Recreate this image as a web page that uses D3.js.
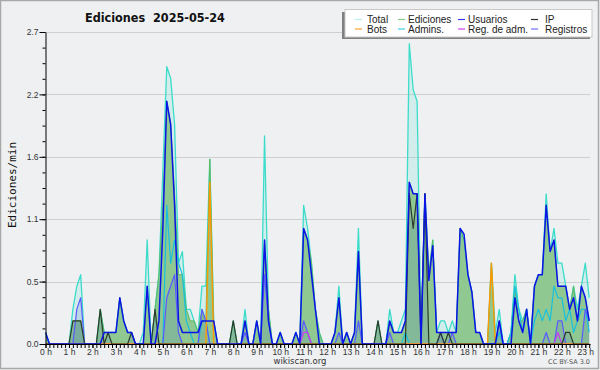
<!DOCTYPE html>
<html>
<head>
<meta charset="utf-8">
<script src="https://cdn.jsdelivr.net/npm/d3@7"></script>
<style>
  body { margin: 0; background: #fff; }
  svg { display: block; font-family: "DejaVu Sans", sans-serif; }
</style>
</head>
<body>
<svg width="600" height="370"></svg>
<script>
// one sample every 10 minutes, 0:00 .. 23:10 (edits per minute)
const minutes = d3.range(0, 1400, 10);
const yTickValues = [0, 0.54, 1.08, 1.62, 2.16, 2.7];
const legendRows = [["Total", "Ediciones", "Usuarios", "IP"], ["Bots", "Admins.", "Reg. de adm.", "Registros"]];

//              :00  :10  :20  :30  :40  :50
const total = [0.1, 0, 0, 0, 0, 0,            // 0h
    0, 0.3, 0.5, 0.6, 0, 0,                   // 1h
    0, 0, 0.3, 0.1, 0.1, 0.1,                 // 2h
    0.1, 0.4, 0.2, 0.1, 0.1, 0,               // 3h
    0, 0.1, 0.9, 0, 0.3, 0.6,                 // 4h
    1.5, 2.4, 2.3, 1.9, 0.7, 0.8,             // 5h
    0.3, 0.3, 0.2, 0.1, 0.5, 0.5,             // 6h
    1.6, 0.2, 0, 0, 0, 0,                     // 7h
    0.2, 0, 0, 0.3, 0, 0,                     // 8h
    0.2, 0, 1.8, 0.3, 0, 0,                   // 9h
    0.1, 0, 0, 0, 0.1, 0,                     // 10h
    1.2, 1.0, 0.7, 0.3, 0.1, 0,               // 11h
    0, 0, 0.1, 0.5, 0, 0.1,                   // 12h
    0, 0.1, 1.0, 0, 0, 0,                     // 13h
    0, 0.2, 0, 0, 0.3, 0.1,                   // 14h
    0.1, 0.2, 0.3, 2.6, 2.2, 2.1,             // 15h
    0.1, 1.3, 0.6, 0.9, 0.1, 0.2,             // 16h
    0.2, 0.1, 0.2, 0.1, 1.0, 0.9,             // 17h
    0.6, 0.45, 0.1, 0.1, 0, 0,                // 18h
    0.7, 0.1, 0.3, 0, 0, 0.1,                 // 19h
    0.6, 0.3, 0.2, 0.3, 0, 0.5,               // 20h
    0.6, 0.6, 1.3, 0.8, 1.0, 0.7,             // 21h
    0.7, 0.5, 0.3, 0.5, 0.3, 0.5,             // 22h
    0.7, 0.4];                                // 23h

const ediciones = [0.1, 0, 0, 0, 0, 0,
    0, 0.2, 0.2, 0.2, 0, 0,
    0, 0, 0.3, 0.1, 0.1, 0.1,
    0.1, 0.4, 0.2, 0.1, 0.1, 0,
    0, 0, 0.5, 0, 0.3, 0.6,
    1.2, 2.1, 1.9, 1.3, 0.6, 0.6,
    0.3, 0.2, 0.2, 0.1, 0.3, 0.2,
    1.6, 0.2, 0, 0, 0, 0,
    0.2, 0, 0, 0.2, 0, 0,
    0.2, 0, 0.9, 0.3, 0, 0,
    0.1, 0, 0, 0, 0.1, 0,
    1.0, 0.9, 0.7, 0.3, 0.1, 0,
    0, 0, 0.1, 0.4, 0, 0.1,
    0, 0.1, 0.8, 0, 0, 0,
    0, 0.2, 0, 0, 0.2, 0.1,
    0.1, 0.1, 0.2, 1.4, 1.3, 1.3,
    0.1, 1.3, 0.6, 0.9, 0.1, 0.1,
    0.1, 0.1, 0.1, 0.1, 1.0, 0.9,
    0.6, 0.45, 0.1, 0.1, 0, 0,
    0.7, 0, 0.2, 0, 0, 0.1,
    0.5, 0.2, 0.2, 0.3, 0, 0.5,
    0.6, 0.6, 1.2, 0.8, 0.9, 0.5,
    0.5, 0.5, 0.3, 0.5, 0.2, 0.5,
    0.4, 0.2];

const usuarios = [0.1, 0, 0, 0, 0, 0,
    0, 0, 0, 0, 0, 0,
    0, 0, 0, 0.1, 0.1, 0.1,
    0.1, 0.4, 0.2, 0.1, 0.1, 0,
    0, 0, 0.5, 0, 0, 0.2,
    1.0, 2.1, 1.9, 1.2, 0.2, 0.1,
    0.1, 0.1, 0.1, 0.1, 0.2, 0.2,
    0.2, 0.2, 0, 0, 0, 0,
    0, 0, 0, 0.2, 0, 0,
    0.2, 0, 0.9, 0.2, 0, 0,
    0.1, 0, 0, 0, 0.1, 0,
    1.0, 0.9, 0.6, 0.3, 0, 0,
    0, 0, 0.1, 0.4, 0, 0.1,
    0, 0.1, 0.8, 0, 0, 0,
    0, 0, 0, 0, 0.2, 0.1,
    0.1, 0.1, 0.2, 1.4, 1.3, 1.3,
    0, 1.3, 0.55, 0.85, 0.1, 0.1,
    0.1, 0.1, 0.1, 0.1, 1.0, 0.95,
    0.6, 0.45, 0.1, 0.1, 0, 0,
    0, 0, 0.2, 0, 0, 0,
    0.4, 0.2, 0.1, 0.3, 0, 0.5,
    0.6, 0.6, 1.2, 0.8, 0.9, 0.5,
    0.5, 0.5, 0.3, 0.4, 0.2, 0.5,
    0.4, 0.2];

const ip = [0, 0, 0, 0, 0, 0,
    0, 0.2, 0.2, 0.2, 0, 0,
    0, 0, 0.3, 0, 0.1, 0,
    0, 0, 0, 0, 0.1, 0,
    0, 0, 0, 0, 0.3, 0,
    0, 0, 0, 0, 0, 0,
    0, 0, 0, 0, 0, 0,
    0, 0, 0, 0, 0, 0,
    0.2, 0, 0, 0, 0, 0,
    0, 0, 0, 0, 0, 0,
    0, 0, 0, 0, 0, 0,
    0, 0, 0, 0, 0, 0,
    0, 0, 0, 0, 0, 0,
    0, 0, 0, 0, 0, 0,
    0, 0.2, 0, 0, 0, 0,
    0, 0, 0, 1.3, 1.0, 1.3,
    0, 1.3, 0, 0, 0, 0.1,
    0, 0.1, 0, 0, 0, 0,
    0, 0, 0, 0, 0, 0,
    0, 0, 0, 0, 0, 0,
    0, 0, 0, 0, 0, 0,
    0, 0, 0, 0, 0, 0,
    0, 0.1, 0.1, 0, 0, 0,
    0, 0];

const bots = [0, 0, 0, 0, 0, 0,
    0, 0, 0, 0, 0, 0,
    0, 0, 0, 0, 0, 0,
    0, 0, 0, 0, 0, 0,
    0, 0, 0, 0, 0, 0,
    0, 0, 0, 0, 0, 0,
    0, 0, 0, 0, 0, 0,
    1.4, 0, 0, 0, 0, 0,
    0, 0, 0, 0, 0, 0,
    0, 0, 0, 0, 0, 0,
    0, 0, 0, 0, 0, 0,
    0, 0, 0, 0, 0, 0,
    0, 0, 0, 0, 0, 0,
    0, 0, 0, 0, 0, 0,
    0, 0, 0, 0, 0, 0,
    0, 0, 0, 0, 0, 0,
    0, 0, 0, 0, 0, 0,
    0, 0, 0, 0, 0, 0,
    0, 0, 0, 0, 0, 0,
    0.7, 0, 0, 0, 0, 0,
    0, 0, 0, 0, 0, 0,
    0, 0, 0, 0, 0, 0,
    0, 0, 0, 0, 0, 0,
    0, 0];

const admins = [0.1, 0, 0, 0, 0, 0,
    0, 0, 0, 0, 0, 0,
    0, 0, 0, 0, 0, 0,
    0, 0, 0, 0, 0, 0,
    0, 0, 0, 0, 0, 0,
    0, 1.2, 0.7, 0.9, 0.7, 0.6,
    0.2, 0.1, 0, 0, 0.2, 0.2,
    0, 0, 0, 0, 0, 0,
    0, 0, 0, 0, 0, 0,
    0, 0, 0, 0, 0, 0,
    0, 0, 0, 0, 0, 0,
    0, 0, 0, 0, 0, 0,
    0, 0, 0, 0, 0, 0,
    0, 0, 0, 0, 0, 0,
    0, 0, 0, 0, 0, 0,
    0, 0, 0.1, 0, 0, 0,
    0, 0, 0, 0, 0, 0,
    0, 0, 0, 0, 0, 0,
    0, 0, 0, 0, 0, 0,
    0, 0, 0.1, 0, 0, 0.1,
    0.5, 0.3, 0.1, 0.3, 0, 0.2,
    0.3, 0.2, 0.3, 0.2, 0.5, 0.4,
    0.4, 0.2, 0.3, 0.1, 0.2, 0.3,
    0.3, 0.1];

const regAdm = [0, 0, 0, 0, 0, 0,
    0, 0, 0, 0, 0, 0,
    0, 0, 0, 0, 0, 0,
    0, 0, 0, 0, 0, 0,
    0, 0, 0, 0, 0, 0,
    0, 0, 0, 0, 0, 0,
    0, 0, 0, 0, 0, 0,
    0, 0, 0, 0, 0, 0,
    0, 0, 0, 0, 0, 0,
    0, 0, 0, 0, 0, 0,
    0, 0, 0, 0, 0, 0,
    0.1, 0.1, 0, 0, 0, 0,
    0, 0, 0, 0, 0, 0,
    0, 0, 0, 0, 0, 0,
    0, 0, 0, 0, 0, 0,
    0, 0, 0, 0, 0, 0,
    0, 0, 0, 0, 0, 0,
    0, 0, 0, 0, 0, 0,
    0, 0, 0, 0, 0, 0,
    0, 0, 0, 0, 0, 0,
    0, 0, 0, 0, 0, 0,
    0, 0, 0, 0, 0, 0.1,
    0, 0, 0, 0, 0, 0,
    0, 0];

const registros = [0, 0, 0, 0, 0, 0,
    0, 0, 0.3, 0.4, 0, 0,
    0, 0, 0, 0, 0, 0,
    0, 0, 0, 0, 0, 0,
    0, 0, 0, 0, 0, 0,
    0, 0.4, 0.5, 0.6, 0.1, 0,
    0, 0, 0, 0, 0.3, 0.2,
    0, 0, 0, 0, 0, 0,
    0, 0, 0, 0.1, 0, 0,
    0, 0, 0.6, 0.2, 0, 0,
    0, 0, 0, 0, 0, 0,
    0.2, 0.1, 0, 0, 0, 0,
    0, 0, 0, 0.1, 0, 0,
    0, 0, 0.2, 0, 0, 0,
    0, 0, 0, 0, 0.1, 0,
    0, 0, 0, 0, 0, 0,
    0, 0, 0, 0, 0, 0.1,
    0, 0, 0.1, 0, 0, 0,
    0, 0, 0, 0, 0, 0,
    0, 0, 0.2, 0, 0, 0,
    0, 0, 0, 0, 0, 0,
    0, 0, 0.1, 0, 0, 0.2,
    0.2, 0, 0, 0, 0, 0,
    0.3, 0.2];

const margin = { left: 45.5, right: 590, top: 32, bottom: 344 };
const svg = d3.select("svg");

const x = d3.scaleLinear([0, 1392], [margin.left, margin.right]);
const y = d3.scaleLinear([0, 2.7], [margin.bottom, margin.top]);

// frame
svg.append("rect").attr("width", 600).attr("height", 370).attr("fill", "#eff0f1");
svg.append("rect").attr("x", 0.5).attr("y", 0.5).attr("width", 598).attr("height", 368)
    .attr("fill", "none").attr("stroke", "#a8a8a8").attr("stroke-width", 1.5);

// grid
svg.append("g").selectAll("line")
    .data(yTickValues.slice(1))
    .join("line")
    .attr("x1", margin.left).attr("x2", margin.right)
    .attr("y1", d => Math.round(y(d)) + 0.5).attr("y2", d => Math.round(y(d)) + 0.5)
    .attr("stroke", "#cfcfcf");

svg.append("defs").append("clipPath").attr("id", "plot")
    .append("rect").attr("x", margin.left).attr("y", margin.top - 2)
    .attr("width", margin.right - margin.left).attr("height", margin.bottom - margin.top + 2);

const plot = svg.append("g").attr("clip-path", "url(#plot)");

const area = d3.area().x((v, i) => x(minutes[i])).y0(y(0)).y1(v => y(v));
const line = d3.line().x((v, i) => x(minutes[i])).y(v => y(v));

const fills = [
    { values: total, fill: "rgba(64,224,208,0.16)" },
    { values: ediciones, fill: "#8fc890" },
    { values: ip, fill: "rgba(70,110,200,0.16)" },
    { values: registros, fill: "rgba(70,110,200,0.16)" }
];
plot.selectAll(".fill")
    .data(fills)
    .join("path")
    .attr("class", "fill")
    .attr("fill", d => d.fill)
    .attr("d", d => area(d.values));

const lines = [
    { values: total, stroke: "#3cdccb", width: 1.3 },
    { values: ediciones, stroke: "#5cb85c", width: 1 },
    { values: admins, stroke: "#18c0e0", width: 1.2 },
    { values: registros, stroke: "#5a5aff", width: 1.2 },
    { values: regAdm, stroke: "#c83cf0", width: 1.2 },
    { values: bots, stroke: "#ff9900", width: 1.4 },
    { values: ip, stroke: "#2c3a2c", width: 1.2 },
    { values: usuarios, stroke: "#0a14e6", width: 1.5 }
];
plot.selectAll(".line")
    .data(lines)
    .join("path")
    .attr("class", "line")
    .attr("fill", "none")
    .attr("stroke", d => d.stroke)
    .attr("stroke-width", d => d.width)
    .attr("stroke-linejoin", "round")
    .attr("d", d => line(d.values));

// axes
const styleAxis = g => {
    g.selectAll("text").attr("fill", "#333").style("font-size", "8.5px");
    g.selectAll("line,path").attr("stroke", "#000");
};

svg.append("g")
    .attr("transform", `translate(${margin.left},0)`)
    .call(d3.axisLeft(y).tickValues(d3.range(0, 2.71, 0.135)).tickSize(3).tickSizeOuter(0).tickFormat(""))
    .call(styleAxis);
svg.append("g")
    .attr("transform", `translate(${margin.left},0)`)
    .call(d3.axisLeft(y).tickValues(yTickValues).tickSize(6).tickSizeOuter(0).tickPadding(1).tickFormat(d3.format(".1f")))
    .call(styleAxis)
    .call(g => g.select(".domain").remove());

svg.append("g")
    .attr("transform", `translate(0,${margin.bottom})`)
    .call(d3.axisBottom(x).tickValues(d3.range(0, 1392, 10)).tickSize(4).tickSizeOuter(0).tickFormat(""))
    .call(styleAxis);
svg.append("g")
    .attr("transform", `translate(0,${margin.bottom})`)
    .call(d3.axisBottom(x).tickValues(d3.range(0, 1392, 60)).tickSize(4).tickPadding(1).tickFormat(m => m / 60 + " h"))
    .call(styleAxis)
    .call(g => g.select(".domain").remove());

// titles
svg.append("text")
    .attr("x", 85).attr("y", 22)
    .style("font-family", "'DejaVu Sans Condensed', 'DejaVu Sans', sans-serif")
    .style("font-weight", "bold").style("font-size", "12.5px")
    .attr("fill", "#111")
    .attr("xml:space", "preserve")
    .text("Ediciones  2025-05-24");

svg.append("text")
    .attr("transform", "translate(16,185) rotate(-90)")
    .attr("text-anchor", "middle")
    .style("font-family", "'DejaVu Sans Mono', monospace").style("font-size", "11px")
    .attr("fill", "#111")
    .text("Ediciones/min");

svg.append("text")
    .attr("x", 300).attr("y", 364).attr("text-anchor", "middle")
    .style("font-size", "8.5px").attr("fill", "#333")
    .text("wikiscan.org");

svg.append("text")
    .attr("x", 590).attr("y", 364).attr("text-anchor", "end")
    .style("font-size", "6.5px").attr("fill", "#555")
    .text("CC BY-SA 3.0");

// legend
const legendColors = [["#b4f0ec", "#80d080", "#3c3cff", "#333"], ["#ffa030", "#40d4e8", "#d040f0", "#7070ff"]];
const colX = [355, 398, 458, 531];
const rowY = [19.5, 29];
const legend = svg.append("g");
legend.append("rect").attr("x", 342).attr("y", 12).attr("width", 248).attr("height", 27).attr("fill", "#808080");
legend.append("rect").attr("x", 345).attr("y", 9.5).attr("width", 247).attr("height", 27.5)
    .attr("fill", "#fff").attr("stroke", "#c8c8c8");
const entries = legendRows.flatMap((row, r) => row.map((label, c) => ({ label, r, c, color: legendColors[r][c] })));
const item = legend.selectAll(".item")
    .data(entries)
    .join("g")
    .attr("class", "item")
    .attr("transform", d => `translate(${colX[d.c]},${rowY[d.r]})`);
item.append("line").attr("x1", 0).attr("x2", 7).attr("stroke", d => d.color).attr("stroke-width", 1.2);
item.append("text")
    .attr("x", d => d.c === 0 ? 12 : (d.c === 3 ? 14 : 10))
    .attr("dy", "0.35em")
    .style("font-family", "'Liberation Sans', Arial, sans-serif").style("font-size", "10px")
    .attr("fill", "#222")
    .text(d => d.label);
</script>
</body>
</html>
